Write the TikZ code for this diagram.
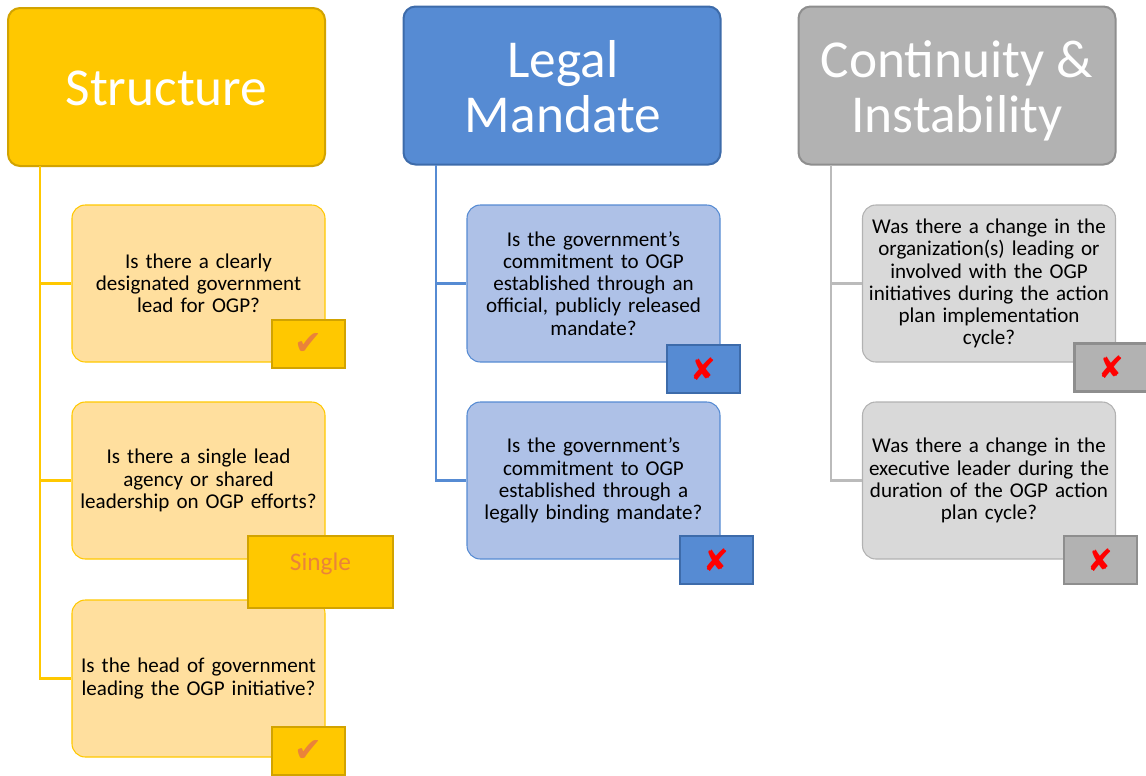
\documentclass[tikz,border=0pt]{standalone}
\usepackage{fontspec}
\setmainfont{Carlito}
\newfontfamily\symfont{DejaVu Sans}
\definecolor{ygold}{HTML}{FFC800}
\definecolor{ygoldd}{HTML}{D2A300}
\definecolor{ylight}{HTML}{FFDF9E}
\definecolor{yorange}{HTML}{EA833A}
\definecolor{bblue}{HTML}{568BD3}
\definecolor{bblued}{HTML}{3D6BAA}
\definecolor{blight}{HTML}{AEC1E7}
\definecolor{ggray}{HTML}{B2B2B2}
\definecolor{ggrayd}{HTML}{8E8E8E}
\definecolor{glight}{HTML}{D9D9D9}
\definecolor{gline}{HTML}{BBBBBB}
\begin{document}
\begin{tikzpicture}[x=0.75pt,y=-0.75pt,
  header/.style={rounded corners=9pt,line width=1.5pt,minimum width=237.75pt,minimum height=118.5pt,inner sep=0pt},
  htext/.style={text=white,font=\fontsize{40}{41.5}\selectfont,align=center,inner sep=0pt},
  qbox/.style={rounded corners=10pt,line width=0.8pt,minimum width=189.75pt,minimum height=117.75pt,
    align=center,font=\fontsize{15.8}{16.6}\selectfont,inner sep=0pt,text width=188pt},
  ansbox/.style={line width=2.2pt,minimum width=54.75pt,minimum height=36pt,inner sep=0pt},
  conn/.style={line width=1.8pt},
  okmark/.style={text=yorange,font=\symfont\fontsize{25}{25}\selectfont},
  nomark/.style={text=red,font=\symfont\fontsize{23}{23}\selectfont}
]
\useasboundingbox (0,0) rectangle (1146,775);

% headers
\node[header,fill=ygold,draw=ygoldd] (hS) at (166.5,87) {};
\node[header,fill=bblue,draw=bblued] (hL) at (562,85.5) {};
\node[header,fill=ggray,draw=ggrayd] (hC) at (957,85.5) {};
\node[htext,anchor=base] (hSt) at (166.5,105) {Structure};
\node[htext,anchor=base] (hLt1) at (563,77) {Legal};
\node[htext,anchor=base] (hLt2) at (563,132) {Mandate};
\node[htext,anchor=base] (hCt1) at (957,77) {Continuity \&};
\node[htext,anchor=base] (hCt2) at (957,132) {Instability};

% question boxes
\node[qbox,fill=ylight,draw=ygold] (y1) at (198.5,283.5) {Is there a clearly\\designated government\\lead for OGP?};
\node[qbox,fill=ylight,draw=ygold] (y2) at (198.5,480.5) {Is there a single lead\\agency or shared\\leadership on OGP efforts?};
\node[qbox,fill=ylight,draw=ygold] (y3) at (198.5,678.5) {Is the head of government\\leading the OGP initiative?};
\node[qbox,fill=blight,draw=bblue] (b1) at (593.5,283.5) {Is the government’s\\commitment to OGP\\established through an\\official, publicly released\\mandate?};
\node[qbox,fill=blight,draw=bblue] (b2) at (593.5,480.5) {Is the government’s\\commitment to OGP\\established through a\\legally binding mandate?};
\node[qbox,fill=glight,draw=ggray] (g1) at (989,283.5) {Was there a change in the\\organization(s) leading or\\involved with the OGP\\initiatives during the action\\plan implementation\\cycle?};
\node[qbox,fill=glight,draw=ggray] (g2) at (989,480.5) {Was there a change in the\\executive leader during the\\duration of the OGP action\\plan cycle?};

% spines
\coordinate (sY) at (40,166);
\coordinate (sB) at (436,165);
\coordinate (sC) at (831,165);
\draw[conn,draw=ygold] (sY) |- (y3.west);
\draw[conn,draw=ygold] (y1.west -| sY) -- (y1.west);
\draw[conn,draw=ygold] (y2.west -| sY) -- (y2.west);
\draw[conn,draw=bblue] (sB) |- (b2.west);
\draw[conn,draw=bblue] (b1.west -| sB) -- (b1.west);
\draw[conn,draw=gline] (sC) |- (g2.west);
\draw[conn,draw=gline] (g1.west -| sC) -- (g1.west);

% answer boxes
\node[ansbox,fill=ygold,draw=ygoldd,okmark] (a1) at (308.5,344) {✔};
\node[ansbox,fill=ygold,draw=ygoldd,minimum width=108.75pt,minimum height=54pt] (a2) at (320.5,572) {};
\node[text=yorange,font=\fontsize{19}{19}\selectfont,inner sep=0pt] (a2t) at (320.5,564) {Single};
\node[ansbox,fill=ygold,draw=ygoldd,okmark] (a3) at (308.5,751) {✔};
\node[ansbox,fill=bblue,draw=bblued,nomark] (a4) at (703.5,369) {✘};
\node[ansbox,fill=bblue,draw=bblued,nomark] (a5) at (716.5,560) {✘};
\node[ansbox,fill=ggray,draw=ggrayd,nomark] (a6) at (1111,367.5) {✘};
\node[ansbox,fill=ggray,draw=ggrayd,nomark] (a7) at (1100.5,560) {✘};
\end{tikzpicture}
\end{document}
